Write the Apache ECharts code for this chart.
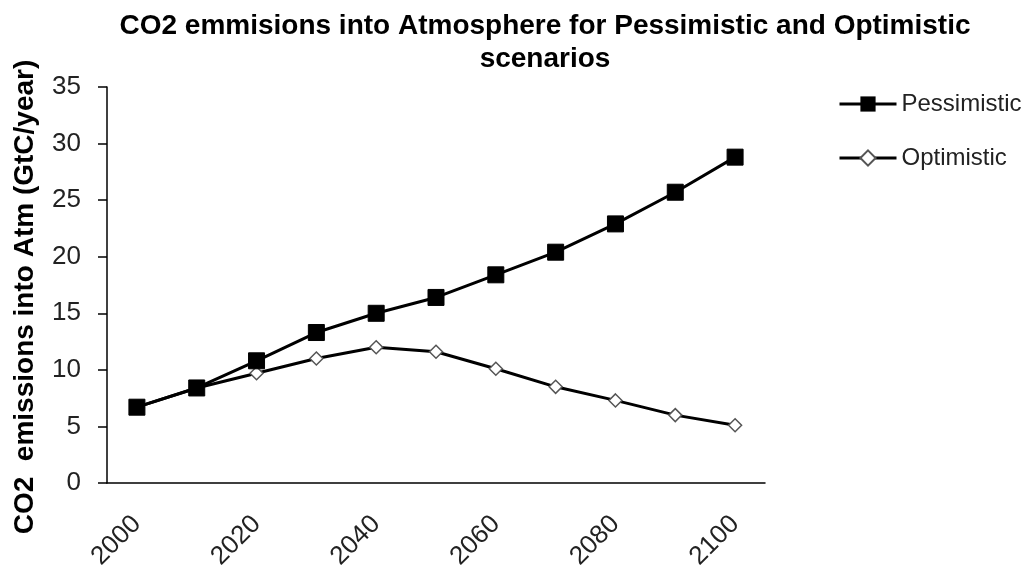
<!DOCTYPE html>
<html><head><meta charset="utf-8">
<script src="https://cdn.jsdelivr.net/npm/echarts@6/dist/echarts.min.js"></script>
<style>html,body{margin:0;padding:0;background:#fff}#c{width:1024px;height:576px}</style>
</head><body><div id="c"></div>
<script>
var years = ['2000','2010','2020','2030','2040','2050','2060','2070','2080','2090','2100'];
var pessimistic = [6.7, 8.4, 10.8, 13.3, 15.0, 16.4, 18.4, 20.4, 22.9, 25.7, 28.8];
var optimistic = [6.7, 8.4, 9.7, 11.0, 12.0, 11.6, 10.1, 8.5, 7.3, 6.0, 5.1];
var yTicks = {min: 0, max: 35, interval: 5};

var chart = echarts.init(document.getElementById('c'));
var font = 'Liberation Sans, Arial, sans-serif';
chart.setOption({
  animation: false,
  backgroundColor: '#fff',
  title: {
    text: 'CO2 emmisions into Atmosphere for Pessimistic and Optimistic\nscenarios',
    left: 540, top: 5, textAlign: 'center',
    textStyle: {fontFamily: font, fontWeight: 'bold', fontSize: 28, color: '#000', lineHeight: 33}
  },
  legend: {
    orient: 'vertical', left: 833, top: 87, itemGap: 30,
    itemWidth: 57, itemHeight: 19,
    lineStyle: {width: 3, color: '#000'},
    textStyle: {fontFamily: font, fontSize: 24, color: '#222'},
    data: ['Pessimistic', 'Optimistic']
  },
  grid: {left: 107, top: 87, right: 259, bottom: 93, containLabel: false},
  xAxis: {
    type: 'category', data: years, boundaryGap: true,
    axisLine: {lineStyle: {color: '#000', width: 1.5}},
    axisTick: {interval: 0, length: 9, lineStyle: {color: '#000', width: 1.5}},
    axisLabel: {interval: 1, rotate: 45, fontFamily: font, fontSize: 26, color: '#222', margin: 37},
    splitLine: {show: false}
  },
  yAxis: {
    type: 'value', min: yTicks.min, max: yTicks.max, interval: yTicks.interval,
    name: 'CO2  emissions into Atm (GtC/year)', nameLocation: 'middle', nameGap: 68,
    nameTextStyle: {fontFamily: font, fontWeight: 'bold', fontSize: 28, color: '#000', padding: [0, 24, 0, 0]},
    axisLine: {show: true, lineStyle: {color: '#000', width: 1.5}},
    axisTick: {show: true, length: 9, lineStyle: {color: '#000', width: 1.5}},
    axisLabel: {fontFamily: font, fontSize: 26, color: '#222', margin: 26},
    splitLine: {show: false}
  },
  series: [
    {
      name: 'Pessimistic', type: 'line', data: pessimistic, z: 3,
      symbol: 'rect', symbolSize: 16,
      lineStyle: {color: '#000', width: 3},
      itemStyle: {color: '#000', borderColor: '#000'}
    },
    {
      name: 'Optimistic', type: 'line', data: optimistic, z: 2,
      symbol: 'diamond', symbolSize: 13,
      lineStyle: {color: '#000', width: 3},
      itemStyle: {color: '#fff', borderColor: '#555', borderWidth: 1.5}
    }
  ]
});
</script></body></html>
